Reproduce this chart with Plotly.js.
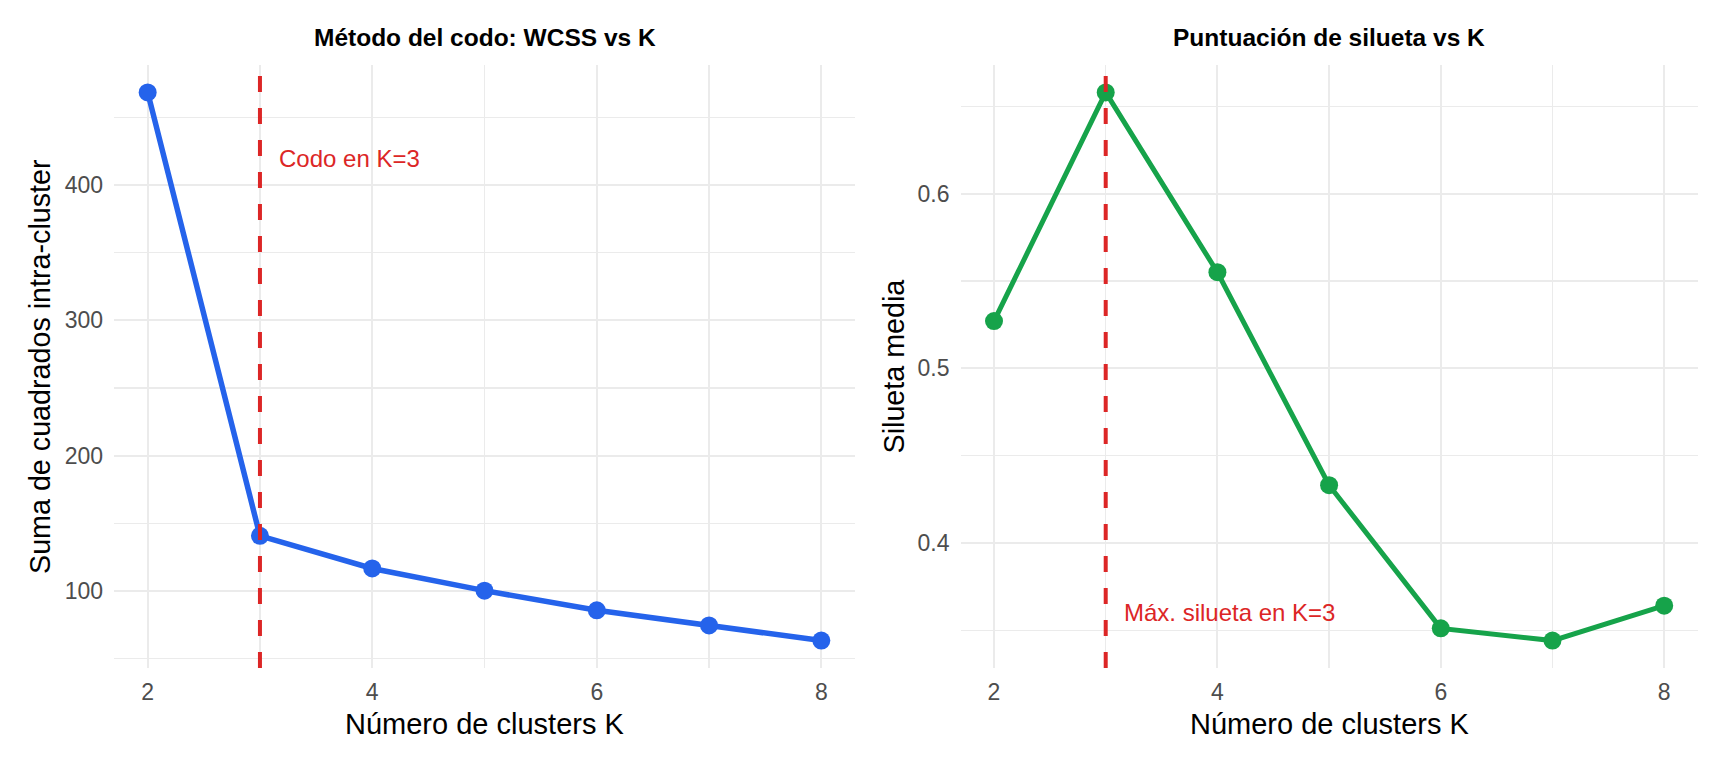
<!DOCTYPE html>
<html>
<head>
<meta charset="utf-8">
<script src="https://cdn.plot.ly/plotly-3.0.1.min.js"></script>
<style>
  html, body { margin: 0; padding: 0; background: #ffffff; }
  #chart { width: 1728px; height: 768px; }
</style>
</head>
<body>
<div id="chart"></div>
<script>
// Número de clusters evaluados
const kValues = [2, 3, 4, 5, 6, 7, 8];
// Suma de cuadrados intra-cluster (WCSS) para cada K
const wcss = [468.5, 140.8, 116.7, 100.3, 85.8, 74.6, 63.4];
// Silueta media para cada K
const silhouette = [0.527, 0.658, 0.555, 0.433, 0.351, 0.344, 0.364];
// K elegido por cada criterio
const elbowK = 3;
const bestSilhouetteK = 3;
// Textos
const titleWcss = 'Método del codo: WCSS vs K';
const titleSil = 'Puntuación de silueta vs K';
const xTitle = 'Número de clusters K';
const yTitleWcss = 'Suma de cuadrados intra-cluster';
const yTitleSil = 'Silueta media';
const noteWcss = 'Codo en K=3';
const noteSil = 'Máx. silueta en K=3';
const noteWcssY = 420;
const noteSilY = 0.36;

const FONT = '"Liberation Sans", Arial, "DejaVu Sans", sans-serif';
const BLUE = '#2563EB';
const GREEN = '#16A34A';
const RED = '#DC2626';
const GRID = '#EBEBEB';

// rango con expansión del 5 % (como ggplot)
function padRange(vals, frac) {
  const lo = Math.min(...vals), hi = Math.max(...vals);
  const d = (hi - lo) * frac;
  return [lo - d, hi + d];
}
const xRange = padRange(kValues, 0.05);

const W = 1728, H = 768;
const topPx = 65, bottomPx = 668;
const yDom = [1 - bottomPx / H, 1 - topPx / H];
const xDom1 = [114 / W, 855 / W];
const xDom2 = [960.5 / W, 1697.7 / W];

const tickFont = { family: FONT, size: 23, color: '#4D4D4D' };

function xAxis(dom, anchor) {
  return {
    domain: dom, anchor: anchor, range: xRange,
    tickmode: 'linear', tick0: 2, dtick: 2,
    showgrid: true, gridcolor: GRID, gridwidth: 2,
    minor: { tickmode: 'linear', tick0: 1, dtick: 1, showgrid: true, gridcolor: GRID, gridwidth: 1.2 },
    zeroline: false, showline: false, ticks: '',
    tickfont: tickFont, ticklabelstandoff: 8
  };
}
function yAxis(dom, anchor, range, dtick, minorDtick) {
  return {
    domain: dom, anchor: anchor, range: range,
    tickmode: 'linear', tick0: 0, dtick: dtick,
    showgrid: true, gridcolor: GRID, gridwidth: 2,
    minor: { tickmode: 'linear', tick0: 0, dtick: minorDtick, showgrid: true, gridcolor: GRID, gridwidth: 1.2 },
    zeroline: false, showline: false, ticks: '',
    tickfont: tickFont, ticklabelstandoff: 10
  };
}

const traces = [
  {
    x: kValues, y: wcss, xaxis: 'x', yaxis: 'y',
    type: 'scatter', mode: 'lines+markers',
    line: { color: BLUE, width: 5.5 },
    marker: { color: BLUE, size: 18 },
    hoverinfo: 'skip', showlegend: false
  },
  {
    x: kValues, y: silhouette, xaxis: 'x2', yaxis: 'y2',
    type: 'scatter', mode: 'lines+markers',
    line: { color: GREEN, width: 5 },
    marker: { color: GREEN, size: 18 },
    hoverinfo: 'skip', showlegend: false
  }
];

const vlineTop = 1 - (76 - topPx) / (bottomPx - topPx);

const layout = {
  width: W, height: H,
  margin: { l: 0, r: 0, t: 0, b: 0 },
  paper_bgcolor: '#ffffff', plot_bgcolor: '#ffffff',
  font: { family: FONT },
  showlegend: false,
  xaxis: xAxis(xDom1, 'y'),
  yaxis: yAxis(yDom, 'x', padRange(wcss, 0.05), 100, 50),
  xaxis2: xAxis(xDom2, 'y2'),
  yaxis2: yAxis(yDom, 'x2', padRange(silhouette, 0.05), 0.1, 0.05),
  shapes: [
    { type: 'line', xref: 'x', yref: 'y domain', x0: elbowK, x1: elbowK, y0: vlineTop, y1: 0,
      line: { color: RED, width: 4, dash: '16px,16px' }, layer: 'above' },
    { type: 'line', xref: 'x2', yref: 'y2 domain', x0: bestSilhouetteK, x1: bestSilhouetteK, y0: vlineTop, y1: 0,
      line: { color: RED, width: 4, dash: '16px,16px' }, layer: 'above' }
  ],
  annotations: [
    // títulos de panel
    { text: '<b>' + titleWcss + '</b>', xref: 'paper', yref: 'paper',
      x: (xDom1[0] + xDom1[1]) / 2, y: 1 - 37.5 / H, xanchor: 'center', yanchor: 'middle',
      showarrow: false, font: { family: FONT, size: 24.5, color: '#000000' } },
    { text: '<b>' + titleSil + '</b>', xref: 'paper', yref: 'paper',
      x: (xDom2[0] + xDom2[1]) / 2, y: 1 - 37.5 / H, xanchor: 'center', yanchor: 'middle',
      showarrow: false, font: { family: FONT, size: 24.5, color: '#000000' } },
    // títulos de ejes X
    { text: xTitle, xref: 'paper', yref: 'paper',
      x: (xDom1[0] + xDom1[1]) / 2, y: 1 - 724 / H, xanchor: 'center', yanchor: 'middle',
      showarrow: false, font: { family: FONT, size: 29, color: '#000000' } },
    { text: xTitle, xref: 'paper', yref: 'paper',
      x: (xDom2[0] + xDom2[1]) / 2, y: 1 - 724 / H, xanchor: 'center', yanchor: 'middle',
      showarrow: false, font: { family: FONT, size: 29, color: '#000000' } },
    // títulos de ejes Y
    { text: yTitleWcss, xref: 'paper', yref: 'paper', textangle: -90,
      x: 39.5 / W, y: (yDom[0] + yDom[1]) / 2, xanchor: 'center', yanchor: 'middle',
      showarrow: false, font: { family: FONT, size: 28.7, color: '#000000' } },
    { text: yTitleSil, xref: 'paper', yref: 'paper', textangle: -90,
      x: 893 / W, y: (yDom[0] + yDom[1]) / 2, xanchor: 'center', yanchor: 'middle',
      showarrow: false, font: { family: FONT, size: 28.7, color: '#000000' } },
    // notas junto a la línea vertical
    { text: noteWcss, xref: 'x', yref: 'y', x: elbowK + 0.15, y: noteWcssY,
      xanchor: 'left', yanchor: 'middle', showarrow: false,
      font: { family: FONT, size: 24, color: RED } },
    { text: noteSil, xref: 'x2', yref: 'y2', x: bestSilhouetteK + 0.15, y: noteSilY,
      xanchor: 'left', yanchor: 'middle', showarrow: false,
      font: { family: FONT, size: 24, color: RED } }
  ]
};

Plotly.newPlot('chart', traces, layout, { staticPlot: true, displayModeBar: false });
</script>
</body>
</html>
